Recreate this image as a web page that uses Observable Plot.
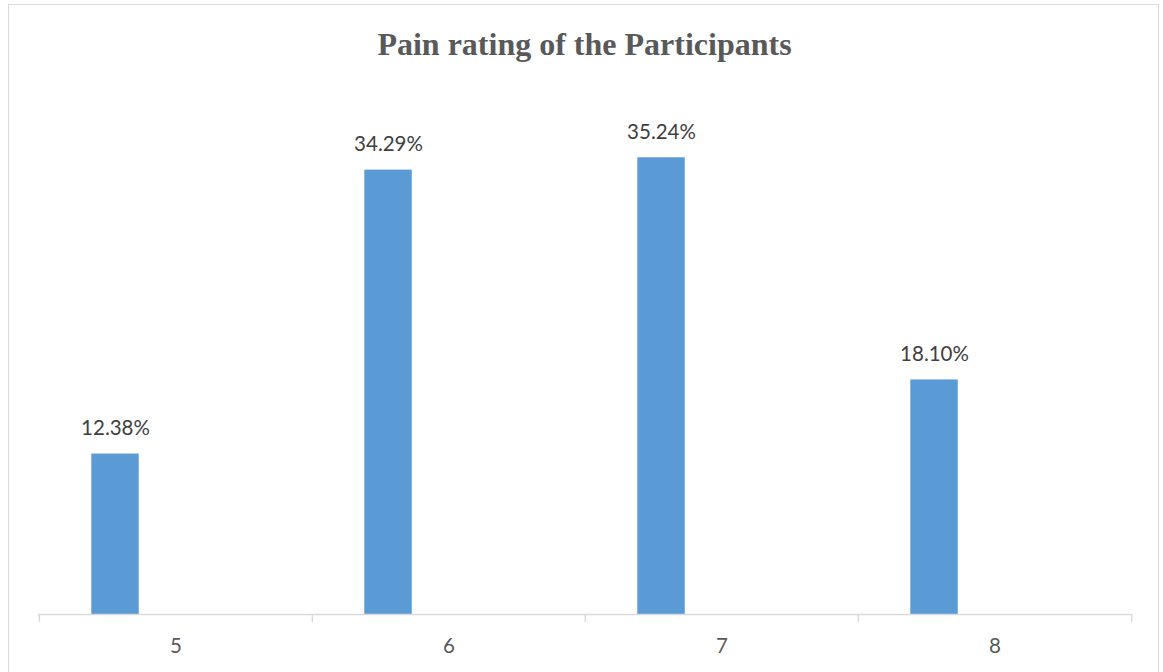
<!DOCTYPE html>
<html>
<head>
<meta charset="utf-8">
<script src="https://cdn.jsdelivr.net/npm/d3@7"></script>
<script src="https://cdn.jsdelivr.net/npm/@observablehq/plot@0.6"></script>
<style>
  html, body { margin: 0; padding: 0; background: #fff; }
  #wrap { position: relative; width: 1163px; height: 672px; overflow: hidden; }
  #frame { position: absolute; left: 8px; top: 4px; width: 1151px; height: 720px;
           border: 1.5px solid #d9d9d9; box-sizing: border-box; }
  #title { position: absolute; left: 0; top: 28px; width: 1169px; text-align: center;
           font-family: "Liberation Serif", "Times New Roman", serif; font-weight: bold;
           font-size: 32px; color: #595959; line-height: 1; }
  #chart { position: absolute; left: 0; top: 0; }
</style>
</head>
<body>
<div id="wrap">
  <div id="frame"></div>
  <div id="chart"></div>
  <div id="title">Pain rating of the Participants</div>
</div>
<script>
// Pain ratings and share of participants (%)
const ratings = ["5", "6", "7", "8"];
const shares = [12.38, 34.29, 35.24, 18.10];

const data = ratings.map((r, i) => ({rating: r, pct: shares[i]}));

const W = 1163, H = 672;
const mL = 38, mR = 32;
const band = (W - mL - mR) / ratings.length;
const insetL = 52.3, insetR = band - 100;
const labelShift = (insetL + (band - insetR)) / 2 - band / 2;

const grey = "#d9d9d9";
const font = "Lato, 'Open Sans', sans-serif";

const plot = Plot.plot({
  width: W,
  height: H,
  marginLeft: mL,
  marginRight: mR,
  marginTop: 95.6,
  marginBottom: 58,
  style: {fontFamily: font, background: "transparent"},
  x: {domain: ratings, padding: 0, label: null},
  y: {domain: [0, 40], axis: null},
  marks: [
    Plot.barY(data, {x: "rating", y: "pct", fill: "#5B9BD5", insetLeft: insetL, insetRight: insetR}),
    Plot.text(data, {
      x: "rating", y: "pct",
      text: d => d.pct.toFixed(2) + "%",
      dx: labelShift, dy: -19, lineAnchor: "bottom",
      fontSize: 20.5, fill: "#404040"
    }),
    Plot.ruleY([0], {stroke: grey, strokeWidth: 1.5}),
    // category boundary ticks
    Plot.axisX({tickSize: 8, dx: -band / 2, tickFormat: () => "", stroke: grey, strokeWidth: 1.5, strokeOpacity: 1}),
    Plot.axisX({ticks: [ratings[ratings.length - 1]], tickSize: 8, dx: band / 2, tickFormat: () => "", stroke: grey, strokeWidth: 1.5, strokeOpacity: 1}),
    // category labels
    Plot.axisX({tickSize: 0, tickPadding: 24, fontSize: 20.5, fill: "#595959"})
  ]
});

document.getElementById("chart").appendChild(plot);
</script>
</body>
</html>
